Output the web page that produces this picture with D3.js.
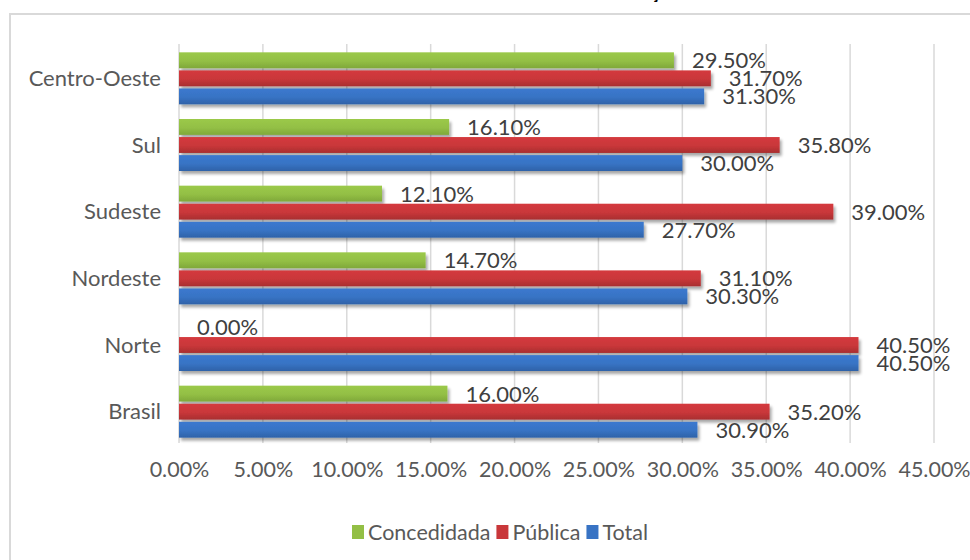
<!DOCTYPE html>
<html><head><meta charset="utf-8">
<script src="https://cdn.jsdelivr.net/npm/d3@7"></script>
<style>body{margin:0;background:#fff;}svg{display:block;}</style>
</head><body>
<script>
const categories = ["Centro-Oeste","Sul","Sudeste","Nordeste","Norte","Brasil"];
const concedida = [29.5,16.1,12.1,14.7,0.0,16.0];
const publica   = [31.7,35.8,39.0,31.1,40.5,35.2];
const total     = [31.3,30.0,27.7,30.3,40.5,30.9];
const tickValues = [0,5,10,15,20,25,30,35,40,45];
const legendLabels = ["Concedidada","Pública","Total"];
const colors = ["#93bf45","#c9373a","#3873c4"];
const colorsDark = ["#7fa83a","#a82e30","#2e62a8"];

const W=970,H=560;
const FONT="Lato, sans-serif";
const svg=d3.select("body").append("svg").attr("width",W).attr("height",H);
const defs=svg.append("defs");
colors.forEach((c,i)=>{
  const g=defs.append("linearGradient").attr("id","g"+i).attr("x1",0).attr("y1",0).attr("x2",0).attr("y2",1);
  g.append("stop").attr("offset","0%").attr("stop-color",d3.color(c).brighter(0.15));
  g.append("stop").attr("offset","55%").attr("stop-color",c);
  g.append("stop").attr("offset","100%").attr("stop-color",colorsDark[i]);
});
const f=defs.append("filter").attr("id","sh").attr("x","-5%").attr("y","-30%").attr("width","115%").attr("height","190%");
f.append("feGaussianBlur").attr("in","SourceAlpha").attr("stdDeviation",1.6);
f.append("feOffset").attr("dx",2).attr("dy",2.5).attr("result","ob");
f.append("feComponentTransfer").append("feFuncA").attr("type","linear").attr("slope",0.35);
const m=f.append("feMerge");m.append("feMergeNode");m.append("feMergeNode").attr("in","SourceGraphic");

// frame
svg.append("path").attr("d","M10,560 V14 H970").attr("fill","none").attr("stroke","#d9d9d9").attr("stroke-width",2);
// title (cut off at top in the reference)
svg.append("text").attr("x",655).attr("y",-1).attr("text-anchor","middle")
  .attr("font-family",FONT).attr("font-weight","bold").attr("font-size",18).attr("fill","#000").text("ç");

const x=d3.scaleLinear().domain([0,45]).range([179,934]);
const y=d3.scaleBand().domain(categories).range([45,445]).paddingInner(0.22).paddingOuter(0.11);
const sub=d3.scaleBand().domain([0,1,2]).range([0,y.bandwidth()]).paddingInner(0.12);

// gridlines
svg.append("g").selectAll("line").data(tickValues).join("line")
  .attr("x1",d=>x(d)).attr("x2",d=>x(d)).attr("y1",44).attr("y2",443)
  .attr("stroke","#d9d9d9").attr("stroke-width",1.5);

// x tick labels
const xa=svg.append("g").attr("transform","translate(0,477)")
  .call(d3.axisBottom(x).tickValues(tickValues).tickSize(0).tickPadding(0).tickFormat(d=>d.toFixed(2)+"%"));
xa.select(".domain").remove();
xa.selectAll("text").attr("font-family",FONT).attr("font-size",21.5).attr("fill","#595959").attr("dy","0");

// y labels
const ya=svg.append("g").attr("transform","translate(161,0)")
  .call(d3.axisLeft(y).tickSize(0).tickPadding(0));
ya.select(".domain").remove();
ya.selectAll("text").attr("font-family",FONT).attr("font-size",22).attr("fill","#595959").attr("dy","0.35em");

const seriesData=[concedida,publica,total];
const rows=[];
categories.forEach((c,ci)=>seriesData.forEach((s,si)=>rows.push({c,si,v:s[ci]})));

svg.append("g").selectAll("rect").data(rows.filter(r=>r.v>0)).join("rect")
  .attr("x",x(0)).attr("y",r=>y(r.c)+sub(r.si))
  .attr("width",r=>x(r.v)-x(0)).attr("height",sub.bandwidth())
  .attr("fill",r=>`url(#g${r.si})`).attr("filter","url(#sh)");

svg.append("g").selectAll("text").data(rows).join("text")
  .attr("x",r=>x(r.v)+18).attr("y",r=>y(r.c)+sub(r.si)+sub.bandwidth()/2)
  .attr("dy","0.36em").attr("font-family",FONT).attr("font-size",22).attr("fill","#404040")
  .text(r=>r.v.toFixed(2)+"%");

// legend
const lg=svg.append("g").attr("transform","translate(0,532)");
const items=[];
let lx=0;
legendLabels.forEach((l,i)=>{
  const gi=lg.append("g");
  gi.append("rect").attr("x",0).attr("y",-7).attr("width",12).attr("height",14).attr("fill",colors[i]);
  const t=gi.append("text").attr("x",16).attr("y",0).attr("dy","0.36em")
    .attr("font-family",FONT).attr("font-size",21.5).attr("fill","#595959").text(l);
  gi.attr("transform",`translate(${lx},0)`);
  lx+=16+t.node().getComputedTextLength()+6;
});
lg.attr("transform",`translate(${500-(lx-6)/2},532)`);
</script>
</body></html>
